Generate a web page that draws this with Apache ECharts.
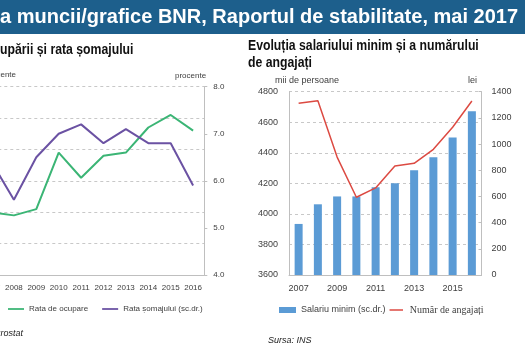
<!DOCTYPE html>
<html>
<head>
<meta charset="utf-8">
<script src="https://cdn.jsdelivr.net/npm/echarts@6/dist/echarts.min.js"></script>
<style>
html, body { margin: 0; padding: 0; background: #fff; }
#main { width: 525px; height: 350px; }
</style>
</head>
<body>
<div id="main"></div>
<script>
// ani (comuni ambelor grafice)
var ani = ['2007', '2008', '2009', '2010', '2011', '2012', '2013', '2014', '2015', '2016'];

// graficul din stanga - procente
var rataOcupare = [58.0, 57.9, 58.1, 59.9, 59.1, 59.8, 59.9, 60.7, 61.1, 60.6];
var rataSomaj = [6.4, 5.6, 6.5, 7.0, 7.2, 6.8, 7.1, 6.8, 6.8, 5.9];

// graficul din dreapta
var salariuMinim = [390, 540, 600, 600, 670, 700, 800, 900, 1050, 1250]; // lei
var angajati = [4724, 4741, 4372, 4109, 4170, 4314, 4331, 4423, 4567, 4739]; // mii de persoane

var axisGray = '#bfbfbf';
var textGray = '#404040';
var sans = 'Liberation Sans, Arial, sans-serif';
// linie pentru legenda (M-urile fixeaza cutia pictogramei)
var lineIcon = 'path://M0,0M0,8M0,3H18V5H0Z';

function plain(v) { return String(v); }

function titlu(text, x, y) {
	return {
		type : 'text',
		x : x, y : y,
		scaleX : 0.875,
		style : {
			text : text,
			fill : '#111', font : 'bold 14px ' + sans,
			textVerticalAlign : 'middle'
		}
	};
}

var option = {
	animation : false,
	textStyle : {
		fontFamily : sans
	},
	graphic : [ {
		type : 'rect',
		shape : { x : 0, y : 0, width : 525, height : 34 },
		style : { fill : '#1d5f8c' }
	}, {
		type : 'text',
		x : 518, y : 17,
		style : {
			text : 'a muncii/grafice BNR, Raportul de stabilitate, mai 2017',
			fill : '#fff', font : 'bold 20px ' + sans,
			textAlign : 'right', textVerticalAlign : 'middle'
		}
	},
	titlu('upării și rata șomajului', 0, 50),
	titlu('Evoluția salariului minim și a numărului', 248, 46),
	titlu('de angajați', 248, 63),
	{
		type : 'text',
		x : 16, y : 75,
		style : {
			text : 'procente', fill : textGray, font : '8px ' + sans,
			textAlign : 'right', textVerticalAlign : 'middle'
		}
	}, {
		type : 'text',
		x : 175, y : 76,
		style : {
			text : 'procente', fill : textGray, font : '8px ' + sans,
			textVerticalAlign : 'middle'
		}
	}, {
		type : 'text',
		x : 275, y : 81,
		style : {
			text : 'mii de persoane', fill : textGray, font : '9px ' + sans,
			textVerticalAlign : 'middle'
		}
	}, {
		type : 'text',
		x : 477, y : 81,
		style : {
			text : 'lei', fill : textGray, font : '9px ' + sans,
			textAlign : 'right', textVerticalAlign : 'middle'
		}
	}, {
		type : 'text',
		x : 23, y : 333,
		style : {
			text : 'Sursa: Eurostat', fill : '#222', font : 'italic 9px ' + sans,
			textAlign : 'right', textVerticalAlign : 'middle'
		}
	}, {
		type : 'text',
		x : 268, y : 340,
		style : {
			text : 'Sursa: INS', fill : '#222', font : 'italic 9px ' + sans,
			textVerticalAlign : 'middle'
		}
	} ],
	legend : [ {
		left : 8,
		top : 305,
		padding : 0,
		itemWidth : 16,
		itemHeight : 8,
		itemGap : 14,
		icon : lineIcon,
		data : [ 'Rata de ocupare', 'Rata șomajului (sc.dr.)' ],
		textStyle : { fontSize : 8, color : textGray }
	}, {
		left : 279,
		top : 305,
		padding : 0,
		itemWidth : 17,
		itemHeight : 6,
		itemGap : 4,
		data : [ {
			name : 'Salariu minim (sc.dr.)',
			icon : 'rect'
		}, {
			name : 'Număr de angajați',
			icon : lineIcon,
			textStyle : { fontFamily : 'Liberation Serif, Times New Roman, serif', fontSize : 10 }
		} ],
		textStyle : { fontSize : 9, color : textGray }
	} ],
	grid : [ {
		left : -19.7,
		right : 320.7,
		top : 86.7,
		bottom : 75,
		outerBoundsMode : 'none'
	}, {
		left : 289,
		right : 43.5,
		top : 91.7,
		bottom : 75,
		outerBoundsMode : 'none'
	} ],
	xAxis : [ {
		gridIndex : 0,
		type : 'category',
		data : ani,
		axisLine : { lineStyle : { color : axisGray } },
		axisTick : { length : 3, lineStyle : { color : axisGray } },
		axisLabel : { interval : 0, fontSize : 8, color : textGray, margin : 9 }
	}, {
		gridIndex : 1,
		type : 'category',
		data : ani,
		axisLine : { lineStyle : { color : axisGray } },
		axisTick : { length : 3, lineStyle : { color : axisGray } },
		axisLabel : { interval : 1, fontSize : 9, color : textGray, margin : 9 }
	} ],
	yAxis : [ {
		gridIndex : 0,
		type : 'value',
		min : 56,
		max : 62,
		interval : 1,
		axisLabel : { show : false },
		axisLine : { show : false },
		axisTick : { show : false },
		splitLine : { lineStyle : { type : [ 3, 3 ], color : '#c8c8c8' } }
	}, {
		gridIndex : 0,
		type : 'value',
		position : 'right',
		min : 4,
		max : 8,
		interval : 1,
		axisLabel : {
			fontSize : 8, color : textGray, margin : 9,
			formatter : function(v) { return v.toFixed(1); }
		},
		axisLine : { show : true, lineStyle : { color : axisGray } },
		axisTick : { show : true, length : 3, lineStyle : { color : axisGray } },
		splitLine : { show : false }
	}, {
		gridIndex : 1,
		type : 'value',
		min : 3600,
		max : 4800,
		interval : 200,
		axisLabel : { fontSize : 9, color : textGray, margin : 11, formatter : plain },
		axisLine : { show : true, lineStyle : { color : axisGray } },
		axisTick : { show : false },
		splitLine : { lineStyle : { type : [ 3, 3 ], color : '#c8c8c8' } }
	}, {
		gridIndex : 1,
		type : 'value',
		position : 'right',
		min : 0,
		max : 1400,
		interval : 200,
		axisLabel : { fontSize : 9, color : textGray, margin : 10, formatter : plain },
		axisLine : { show : true, lineStyle : { color : axisGray } },
		axisTick : { show : true, length : 3, inside : true, lineStyle : { color : axisGray } },
		splitLine : { show : false }
	} ],
	series : [ {
		name : 'Rata de ocupare',
		type : 'line',
		xAxisIndex : 0,
		yAxisIndex : 0,
		symbol : 'none',
		data : rataOcupare,
		itemStyle : { color : '#3bb575' },
		lineStyle : { width : 2, color : '#3bb575' }
	}, {
		name : 'Rata șomajului (sc.dr.)',
		type : 'line',
		xAxisIndex : 0,
		yAxisIndex : 1,
		symbol : 'none',
		data : rataSomaj,
		itemStyle : { color : '#6b52a3' },
		lineStyle : { width : 2, color : '#6b52a3' }
	}, {
		name : 'Salariu minim (sc.dr.)',
		type : 'bar',
		xAxisIndex : 1,
		yAxisIndex : 3,
		barWidth : 8,
		data : salariuMinim,
		itemStyle : { color : '#5b9bd5' }
	}, {
		name : 'Număr de angajați',
		type : 'line',
		xAxisIndex : 1,
		yAxisIndex : 2,
		symbol : 'none',
		data : angajati,
		itemStyle : { color : '#dc4a42' },
		lineStyle : { width : 1.5, color : '#dc4a42' }
	} ]
};

var myChart = echarts.init(document.getElementById('main'));
myChart.setOption(option);
</script>
</body>
</html>
